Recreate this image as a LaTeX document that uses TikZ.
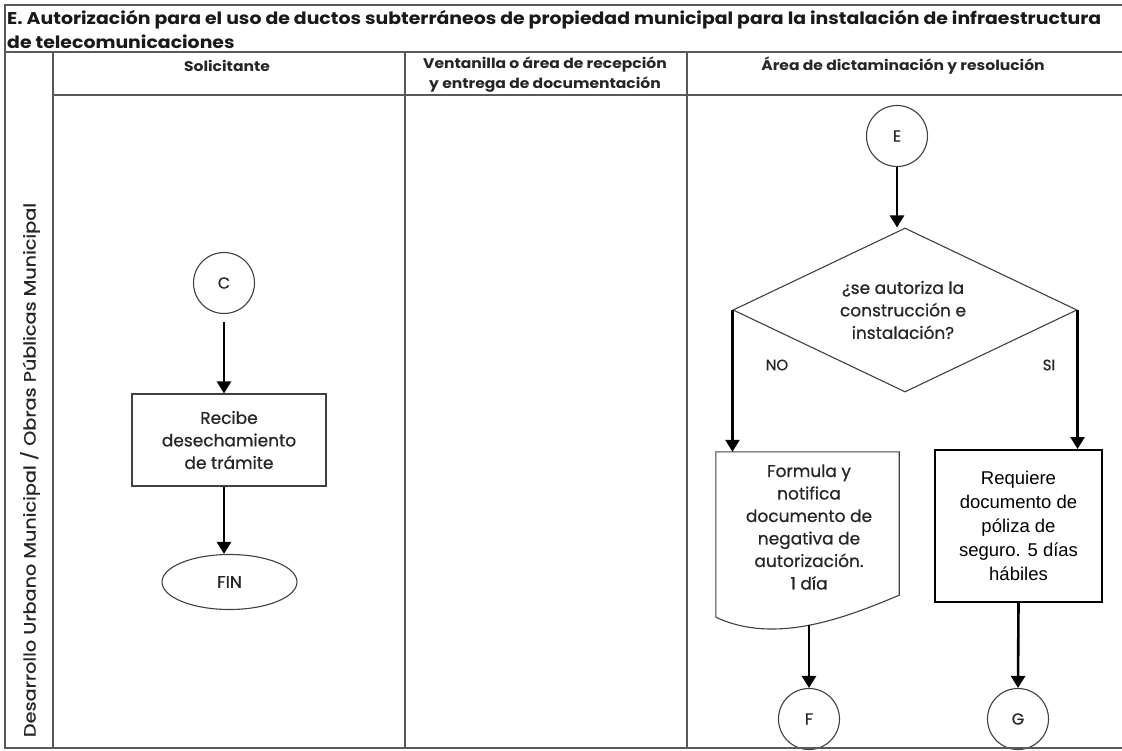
\documentclass[tikz,border=0pt]{standalone}
\usepackage{fontspec}
\setmainfont{Poppins}
\newfontfamily\bodyf{Poppins}[FakeBold=0.7]
\newfontfamily\arialf{Liberation Sans}
\usetikzlibrary{shapes.geometric,arrows.meta}
\newlength{\ttlw}
\tikzset{
 gridline/.style={draw=black!65, line width=1.4pt},
 shapeline/.style={draw=black!75, line width=1.1pt},
 arr/.style={draw=black, line width=2.6pt, -{Triangle[length=12pt,width=14pt]}},
 body/.style={font=\bodyf\fontsize{17}{22.5}\selectfont, text=black!85, align=center, inner sep=0pt},
 conn/.style={circle, shapeline, minimum size=61pt, inner sep=0pt, font=\bodyf\fontsize{16}{18}\selectfont, text=black!85},
 head/.style={font=\fontsize{14}{20}\selectfont\bfseries, text=black!85, inner sep=0pt},
 lbl/.style={font=\bodyf\fontsize{15}{18}\selectfont, text=black!85, inner sep=0pt},
}
\begin{document}
\settowidth{\ttlw}{\fontsize{17}{22}\selectfont\bfseries E. Autorización para el uso de ductos subterráneos de propiedad municipal para la instalación de infraestructura}%
\pgfmathsetmacro\tsx{1094/\ttlw}%
\begin{tikzpicture}[x=1pt,y=-1pt]
\useasboundingbox (0,0) rectangle (1122,751);
\fill[white] (0,0) rectangle (1122,751);
% title
\node[anchor=west, inner sep=0pt, font=\fontsize{17}{22}\selectfont\bfseries, text=black!90] (t1) at (7,20) {\scalebox{\tsx}[1]{E. Autorización para el uso de ductos subterráneos de propiedad municipal para la instalación de infraestructura}};
\node[anchor=west, inner sep=0pt, font=\fontsize{17}{22}\selectfont\bfseries, text=black!90] (t2) at (7,42) {\scalebox{\tsx}[1]{de telecomunicaciones}};
% headers
\node[head] (h1) at (227,66) {\scalebox{\tsx}[1]{Solicitante}};
\node[head] (h2) at (545,75) {\scalebox{\tsx}[1]{\begin{tabular}{@{}c@{}}Ventanilla o área de recepción\\y entrega de documentación\end{tabular}}};
\node[head] (h3) at (903,66) {\scalebox{\tsx}[1]{Área de dictaminación y resolución}};
% lane label
\node[rotate=90, inner sep=0pt, font=\bodyf\fontsize{16.5}{20}\selectfont, text=black!85] (lane) at (30,470) {\resizebox{534pt}{\height}{Desarrollo Urbano Municipal / Obras Públicas Municipal}};
% left column
\node[conn] (C) at (224,283) {C};
\node[rectangle, shapeline, minimum width=194pt, minimum height=92pt, body] (rec) at (229,440) {Recibe\\desechamiento\\de trámite};
\node[ellipse, shapeline, minimum width=135pt, minimum height=55pt, inner sep=0pt, font=\bodyf\fontsize{17}{20}\selectfont, text=black!85] (fin) at (229.5,582) {FIN};
\draw[arr, shorten <=8pt] (C.south) -- (C.south |- rec.north);
\draw[arr] (C.south |- rec.south) -- (C.south |- fin.north);
% right column
\node[conn] (E) at (897,136) {E};
\node[diamond, shapeline, minimum width=344pt, minimum height=164pt, inner sep=0pt] (dia) at (905,310) {};
\node[body] (q) at (903,310) {¿se autoriza la\\construcción e\\instalación?};
\node[lbl] (no) at (777,365) {NO};
\node[lbl] (si) at (1049,365) {SI};
\draw[arr] (E.south) -- (E.south |- dia.north);
% document shape
\node[minimum width=183pt, minimum height=165pt, inner sep=0pt] (doc) at (807.5,534.5) {};
\draw[shapeline] (doc.south west) -- (doc.north west) -- (doc.north east) -- ([yshift=22pt]doc.south east) .. controls (845,618) and (775,645) .. (doc.south west);
\node[body] (doctext) at (809,527) {Formula y\\notifica\\documento de\\negativa de\\autorización.\\1 día};
\coordinate (docbot) at (809,625);
\node[conn] (F) at (809,719) {F};
\draw[arr] (dia.west) -- (dia.west |- doc.north);
\draw[arr] (docbot) -- (F.north);
% requiere box
\node[rectangle, draw=black, line width=2pt, minimum width=167pt, minimum height=152pt, font=\arialf\fontsize{18.5}{24}\selectfont, align=center, inner sep=0pt] (req) at (1018.5,526) {Requiere\\documento de\\póliza de\\seguro. 5 días\\hábiles};
\draw[arr] (dia.east) -- (dia.east |- req.north);
\node[conn] (G) at (1018,719) {G};
\draw[arr] (req.south) -- (G.north);
% grid
\draw[gridline] (1122,5) -- (5,5) -- (5,748) -- (1122,748);
\draw[gridline] (5,52) -- (1122,52);
\draw[gridline] (53,95) -- (1122,95);
\draw[gridline] (53,52) -- (53,748);
\draw[gridline] (405,52) -- (405,748);
\draw[gridline] (687,52) -- (687,748);
\end{tikzpicture}
\end{document}
